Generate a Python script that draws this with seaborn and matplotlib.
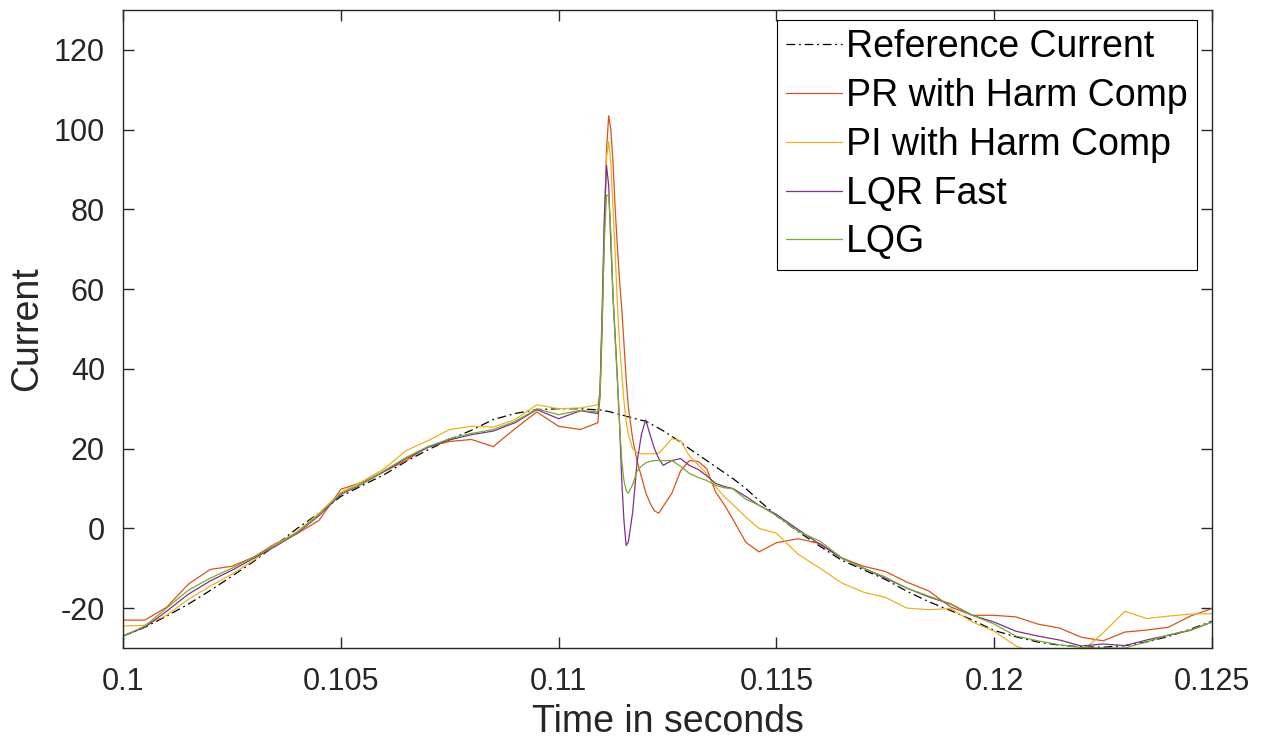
import numpy as np
import pandas as pd
import matplotlib
matplotlib.use("Agg")
import matplotlib.pyplot as plt
import seaborn as sns

# ---- data ----
time_s = [0.1000, 0.1005, 0.1010, 0.1015, 0.1020, 0.1025, 0.1030, 0.1035, 0.1040, 0.1045,
          0.1050, 0.1055, 0.1060, 0.1065, 0.1070, 0.1075, 0.1080, 0.1085, 0.1090, 0.1095,
          0.1100, 0.1105, 0.1109, 0.11095, 0.1110, 0.11105, 0.1111, 0.11115, 0.1112, 0.11125,
          0.1113, 0.11135, 0.1114, 0.11145, 0.1115, 0.11155, 0.1116, 0.1117, 0.1118, 0.1119,
          0.1120, 0.1121, 0.1122, 0.1123, 0.1124, 0.1126, 0.1128, 0.1130, 0.1132, 0.1134,
          0.1136, 0.1138, 0.1140, 0.1143, 0.1146, 0.1150, 0.1155, 0.1160, 0.1165, 0.1170,
          0.1175, 0.1180, 0.1185, 0.1190, 0.1195, 0.1200, 0.1205, 0.1210, 0.1215, 0.1220,
          0.1225, 0.1230, 0.1235, 0.1240, 0.1245, 0.1250]

reference_current = [-27, -24.8, -22, -19, -15.6, -12, -8.3, -4.2, 0, 3.8,
                     8, 10.8, 13.5, 16.8, 19.7, 22.3, 24.6, 27.3, 28.8, 29.8,
                     30, 30, 29.7, 29.7, 29.6, 29.5, 29.4, 29.3, 29.2, 29.0,
                     28.9, 28.7, 28.6, 28.4, 28.3, 28.1, 28.0, 27.7, 27.4, 27.1,
                     26.9, 26.3, 25.7, 25.1, 24.5, 23.1, 21.6, 20.0, 18.5, 17.0,
                     15.5, 14.0, 12.5, 10.0, 7.0, 3.2, -0.8, -4.5, -8.0, -10.4,
                     -12.8, -15.8, -18.4, -20.6, -23, -25.6, -27.2, -28.5, -29.3, -29.7,
                     -29.8, -29.4, -28.5, -27.1, -25.3, -23.3]

pr_harm = [-23, -23, -19.8, -14, -10.3, -9.5, -7.2, -3.8, -1.3, 2,
           9.8, 11.6, 14.3, 17, 20.5, 21.8, 22.3, 20.5, 25, 29.2,
           25.6, 24.8, 26.5, 33, 50, 75, 95, 103.5, 100, 91.5,
           80, 70.5, 62, 55, 46.5, 37.5, 30.5, 22.5, 17, 13,
           9, 6.3, 4.4, 3.8, 5.5, 8.8, 14.4, 17, 16.8, 15,
           9.2, 6, 2.3, -3.5, -5.9, -3.6, -2.6, -3.8, -7.4, -9.5,
           -10.8, -13.5, -15.7, -19.7, -21.8, -21.8, -22.2, -24, -25, -27.3,
           -28.2, -26, -25.5, -24.8, -22, -20.1]

pi_harm = [-24.5, -24.3, -21.8, -17.8, -14.5, -11.5, -8, -4, -0.8, 3.8,
           9, 11.8, 15, 19.5, 22, 24.8, 25.6, 25.4, 27.3, 31,
           30, 30.2, 31, 34, 52, 76, 93, 97, 91.5, 80,
           69, 56, 46, 39, 32, 27, 23.5, 20, 19, 18.7,
           18.7, 18.7, 18.7, 18.9, 20, 22.5, 22, 18.2, 16, 13.7,
           10.5, 8, 6, 2.8, 0, -1.2, -6.5, -10, -13.7, -16,
           -17.3, -20, -20.4, -20.1, -23.5, -25.8, -29.5, -31.5, -33.5, -31,
           -26.2, -20.8, -22.6, -22, -21.5, -21.4]

lqr_fast = [-27, -24.8, -20.8, -16.5, -13.2, -10.5, -7.5, -4.5, -1.2, 3.2,
            8.5, 11.2, 14.3, 17.5, 20.3, 22.2, 23.5, 24.4, 26.5, 29.8,
            27.5, 29.5, 28.8, 34, 55, 78, 91, 86, 71, 58,
            48, 37.5, 26, 12, 2, -4.3, -3.5, 4, 16.5, 23.5,
            27.2, 23.5, 20, 17.5, 15.8, 17, 17.5, 15.8, 14.8, 13.2,
            11.3, 10.5, 10, 8, 5.8, 3.5, -0.3, -4, -7.5, -10,
            -12.5, -15, -17.2, -19, -21.8, -23.5, -25.8, -27, -28, -29.5,
            -29, -29.4, -28, -26.8, -25.6, -23.5]

lqg = [-27, -24.5, -20, -15.5, -12.5, -10, -7.2, -4.2, -1, 3.5,
       8.8, 11.3, 14.5, 17.8, 20.5, 22.5, 23.8, 24.8, 26.8, 30,
       28.5, 29.6, 29.2, 33, 52, 72, 83.5, 83.5, 74, 58,
       47, 37, 26, 17, 12, 9.5, 8.8, 11, 14.3, 15.6,
       16.4, 16.8, 17, 17, 17, 17, 15.6, 13.8, 12.8, 12,
       10.8, 10.2, 9.9, 7.3, 5.8, 3.2, -0.7, -3.2, -7.4, -10,
       -12.2, -15, -17, -18.9, -21.8, -24, -27, -28.2, -29.2, -29.9,
       -30, -30, -28.5, -26.7, -25.5, -23.5]

series_names = ["Reference Current", "PR with Harm Comp", "PI with Harm Comp",
                "LQR Fast", "LQG"]
x_ticks = [0.1, 0.105, 0.11, 0.115, 0.12, 0.125]
x_tick_labels = ["0.1", "0.105", "0.11", "0.115", "0.12", "0.125"]
y_ticks = [-20, 0, 20, 40, 60, 80, 100, 120]
y_tick_labels = ["-20", "0", "20", "40", "60", "80", "100", "120"]

# ---- styling ----
sns.set_theme(style="white")
plt.rcParams["font.family"] = ["Liberation Sans", "DejaVu Sans"]
plt.rcParams["axes.unicode_minus"] = False

colors = ["black", "#D95319", "#EDB120", "#7E2F8E", "#77AC30"]
styles = [(0, (7, 3, 1.5, 3)), "-", "-", "-", "-"]
values = [reference_current, pr_harm, pi_harm, lqr_fast, lqg]

fig = plt.figure(figsize=(12.63, 7.44), dpi=100)
ax = fig.add_axes([123 / 1263, 96 / 744, (1212 - 123) / 1263, (648 - 10) / 744])

for name, vals, col, ls in zip(series_names, values, colors, styles):
    df = pd.DataFrame({"t": time_s, "v": vals})
    sns.lineplot(data=df, x="t", y="v", ax=ax, color=col, linestyle=ls,
                 linewidth=0.9, sort=False, errorbar=None, label=name)

ax.set_xlim(0.1, 0.125)
ax.set_ylim(-30, 130)
ax.set_xticks(x_ticks)
ax.set_xticklabels(x_tick_labels)
ax.set_yticks(y_ticks)
ax.set_yticklabels(y_tick_labels)
ax.set_xlabel("Time in seconds", fontsize=27, color="#262626", labelpad=5)
ax.set_ylabel("Current", fontsize=27, color="#262626", labelpad=6)

ax.tick_params(axis="both", which="both", direction="in", length=8, width=1,
               color="#262626", labelsize=22, labelcolor="#262626",
               top=True, right=True, bottom=True, left=True)
ax.tick_params(axis="x", pad=14)
ax.tick_params(axis="y", pad=13)
for sp in ax.spines.values():
    sp.set_visible(True)
    sp.set_color("#262626")
    sp.set_linewidth(1.0)

leg = ax.legend(loc="upper right", bbox_to_anchor=((1197 - 123) / 1089, (648 - 20) / 638),
                fontsize=27, frameon=True, fancybox=False, framealpha=1,
                edgecolor="black", handlelength=1.5, handletextpad=0.1,
                labelspacing=0.34, borderpad=0.25, borderaxespad=0)
leg.get_frame().set_linewidth(0.8)
for line in leg.get_lines():
    line.set_linewidth(0.9)
for txt in leg.get_texts():
    txt.set_color("black")

fig.savefig("out.png", dpi=100)
